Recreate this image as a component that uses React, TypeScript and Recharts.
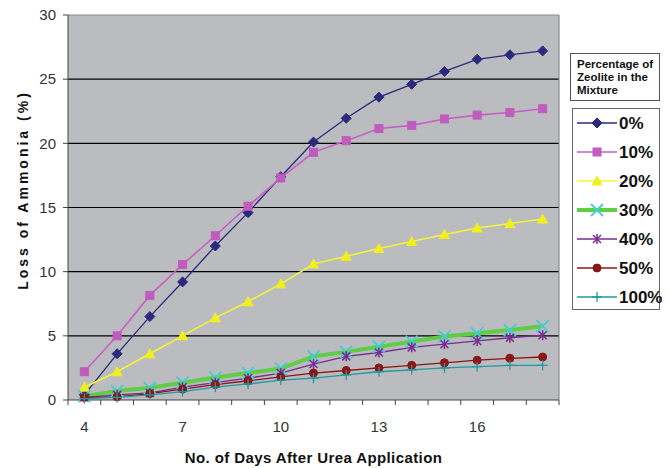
import React from 'react';
import { LineChart, Line, XAxis, YAxis, CartesianGrid, ReferenceLine } from 'recharts';

const days = [4, 5, 6, 7, 8, 9, 10, 11, 12, 13, 14, 15, 16, 17, 18];
const z0 = [0.4, 3.6, 6.5, 9.2, 12.0, 14.6, 17.4, 20.1, 21.95, 23.6, 24.6, 25.6, 26.55, 26.9, 27.2];
const z10 = [2.2, 5.0, 8.15, 10.55, 12.8, 15.1, 17.3, 19.3, 20.2, 21.15, 21.4, 21.9, 22.2, 22.4, 22.7];
const z20 = [1.0, 2.2, 3.6, 5.0, 6.4, 7.65, 9.05, 10.6, 11.2, 11.8, 12.35, 12.9, 13.4, 13.75, 14.1];
const z30 = [0.3, 0.7, 0.95, 1.35, 1.75, 2.1, 2.45, 3.4, 3.75, 4.15, 4.55, 4.95, 5.2, 5.45, 5.75];
const z40 = [0.2, 0.4, 0.55, 1.0, 1.35, 1.7, 2.1, 2.8, 3.4, 3.7, 4.1, 4.35, 4.6, 4.85, 5.05];
const z50 = [0.2, 0.25, 0.5, 0.85, 1.2, 1.5, 1.8, 2.1, 2.3, 2.5, 2.7, 2.9, 3.1, 3.25, 3.35];
const z100 = [0.1, 0.2, 0.4, 0.65, 1.0, 1.25, 1.55, 1.7, 1.95, 2.2, 2.35, 2.5, 2.6, 2.7, 2.7];

const seriesNames = ['0%', '10%', '20%', '30%', '40%', '50%', '100%'];
const seriesValues = [z0, z10, z20, z30, z40, z50, z100];
const xTickLabels = [4, 7, 10, 13, 16];
const yTicks = [0, 5, 10, 15, 20, 25, 30];
const gridValues = [5, 10, 15, 20, 25];
const legendTitle = ['Percentage of', 'Zeolite in the', 'Mixture'];

const styles = [
  { line: '#2b2a7c', lw: 1.3, marker: 'diamond', mc: '#2b2a7c' },
  { line: '#c660c4', lw: 1.6, marker: 'square', mc: '#c05cbd' },
  { line: '#f4f43a', lw: 1.6, marker: 'triangle', mc: '#f2f01c' },
  { line: '#5fcd45', lw: 4, marker: 'x', mc: '#3ccfd8' },
  { line: '#7a2a92', lw: 1.3, marker: 'star', mc: '#7a2a92' },
  { line: '#8c1616', lw: 1.3, marker: 'circle', mc: '#8c1616' },
  { line: '#1f9aa0', lw: 1.3, marker: 'plus', mc: '#1f9aa0' },
];

const data = days.map((d, i) => {
  const row: any = { day: d };
  seriesNames.forEach((n, k) => { row[n] = seriesValues[k][i]; });
  return row;
});

const xTicks: number[] = [];
for (let v = days[0] - 0.5; v <= days[days.length - 1] + 0.5; v += 0.5) xTicks.push(v);

const FONT = 'Liberation Sans, Arial, sans-serif';

function Marker({ type, cx, cy, c }: { type: string; cx: number; cy: number; c: string }) {
  switch (type) {
    case 'diamond':
      return <polygon points={`${cx},${cy - 5} ${cx + 5},${cy} ${cx},${cy + 5} ${cx - 5},${cy}`} fill={c} stroke={c} />;
    case 'square':
      return <rect x={cx - 4} y={cy - 4} width={8} height={8} fill={c} stroke={c} />;
    case 'triangle':
      return <polygon points={`${cx},${cy - 5} ${cx + 5},${cy + 4} ${cx - 5},${cy + 4}`} fill={c} stroke={c} />;
    case 'x':
      return (
        <g stroke={c} strokeWidth={1.8}>
          <line x1={cx - 6} y1={cy - 6} x2={cx + 6} y2={cy + 6} />
          <line x1={cx - 6} y1={cy + 6} x2={cx + 6} y2={cy - 6} />
        </g>
      );
    case 'star':
      return (
        <g stroke={c} strokeWidth={1.5}>
          <line x1={cx - 4} y1={cy - 4} x2={cx + 4} y2={cy + 4} />
          <line x1={cx - 4} y1={cy + 4} x2={cx + 4} y2={cy - 4} />
          <line x1={cx} y1={cy - 5} x2={cx} y2={cy + 5} />
        </g>
      );
    case 'circle':
      return <circle cx={cx} cy={cy} r={4} fill={c} stroke={c} />;
    case 'plus':
      return (
        <g stroke={c} strokeWidth={1.3}>
          <line x1={cx - 5} y1={cy} x2={cx + 5} y2={cy} />
          <line x1={cx} y1={cy - 5} x2={cx} y2={cy + 5} />
        </g>
      );
  }
  return null;
}

const makeDot = (k: number) => (props: any) => {
  const { cx, cy, index } = props;
  return (
    <g key={`d-${k}-${index}`}>
      <Marker type={styles[k].marker} cx={cx} cy={cy} c={styles[k].mc} />
    </g>
  );
};

const XTick = (props: any) => {
  const { x, payload } = props;
  const v = payload.value;
  if (Math.abs(v - Math.round(v)) > 0.01) {
    return <line x1={x} y1={400} x2={x} y2={405} stroke="#444" />;
  }
  if (xTickLabels.includes(v)) {
    return (
      <text x={x} y={432} textAnchor="middle" fontSize={15} fill="#333" fontFamily={FONT}>
        {v}
      </text>
    );
  }
  return <g />;
};

function LegendBox() {
  return (
    <div style={{ position: 'absolute', left: 570, top: 53, width: 100, height: 260, fontFamily: FONT }}>
      <div
        style={{
          position: 'absolute', left: 0, top: 0, width: 90, height: 48,
          border: '1px solid #555', background: '#fff', fontSize: 11.5, fontWeight: 'bold',
          lineHeight: '13px', padding: '4px 0 0 6px', boxSizing: 'border-box', color: '#111',
        }}
      >
        {legendTitle.map((t) => <div key={t}>{t}</div>)}
      </div>
      <svg style={{ position: 'absolute', left: 2, top: 55 }} width={90} height={203}>
        <rect x={0.5} y={0.5} width={87} height={201} fill="#fff" stroke="#666" />
        {seriesNames.map((n, k) => {
          const cy = 15 + k * 29;
          return (
            <g key={n}>
              <line x1={5} y1={cy} x2={45} y2={cy} stroke={styles[k].line} strokeWidth={styles[k].lw} />
              <Marker type={styles[k].marker} cx={25} cy={cy} c={styles[k].mc} />
              <text x={47} y={cy + 6} fontSize={17} fontWeight="bold" fill="#111" fontFamily={FONT}>{n}</text>
            </g>
          );
        })}
      </svg>
    </div>
  );
}

export default function App() {
  return (
    <div style={{ position: 'absolute', left: 0, top: 0, width: 669, height: 468, background: '#fff' }}>
      <LineChart width={669} height={468} data={data} margin={{ top: 15, right: 110, left: 0, bottom: 0 }}>
        <CartesianGrid
          horizontal
          vertical={false}
          horizontalValues={gridValues}
          stroke="#000"
          strokeWidth={1.2}
          fill="#babcbf"
          fillOpacity={1}
        />
        <ReferenceLine y={30} stroke="#8a8a8a" strokeWidth={1.2} />
        <ReferenceLine x={18.5} stroke="#8a8a8a" strokeWidth={1.2} />
        <XAxis
          dataKey="day"
          type="number"
          domain={[3.5, 18.5]}
          ticks={xTicks}
          interval={0}
          tick={<XTick />}
          tickLine={false}
          axisLine={{ stroke: '#444' }}
          height={68}
          allowDataOverflow
          label={{
            value: 'No. of Days After Urea Application',
            position: 'insideBottom',
            offset: 5,
            style: { fontSize: 15, fontWeight: 'bold', fill: '#111', fontFamily: FONT, letterSpacing: 0.4 },
          }}
        />
        <YAxis
          type="number"
          domain={[0, 30]}
          ticks={yTicks}
          interval={0}
          width={68}
          tickSize={5}
          tickMargin={7}
          tickLine={{ stroke: '#444' }}
          axisLine={{ stroke: '#444' }}
          tick={{ fontSize: 15, fill: '#333', fontFamily: FONT }}
          label={{
            content: () => (
              <text
                x={0}
                y={0}
                transform="translate(28,190) rotate(-90)"
                textAnchor="middle"
                fontSize={14}
                fontWeight="bold"
                fill="#111"
                letterSpacing={3}
                fontFamily={FONT}
              >
                Loss of Ammonia (%)
              </text>
            ),
          }}
        />
        {seriesNames.map((n, k) => (
          <Line
            key={n}
            dataKey={n}
            type="linear"
            stroke={styles[k].line}
            strokeWidth={styles[k].lw}
            dot={makeDot(k)}
            activeDot={false}
            isAnimationActive={false}
            legendType="none"
          />
        ))}
      </LineChart>
      <LegendBox />
    </div>
  );
}
